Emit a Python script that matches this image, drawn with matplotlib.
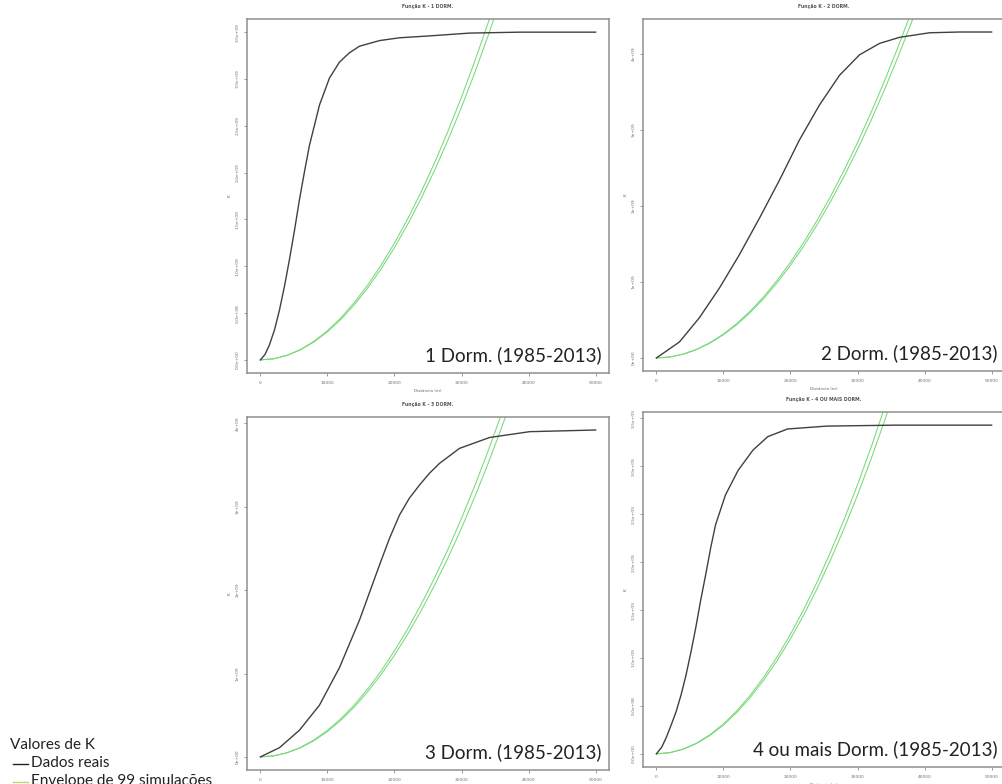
import matplotlib
matplotlib.use('agg')
import matplotlib.pyplot as plt
from matplotlib.lines import Line2D

# distances (m) and observed K values (x1e9) for each panel
d1 = [0, 700, 1343, 2100, 2836, 3600, 4328, 5100, 5821, 6600, 7313, 8806, 10299, 11791, 13284, 14776, 17761, 20746, 25224, 31194, 38657, 50000]
k1 = [0.0, 0.06, 0.16, 0.32, 0.53, 0.79, 1.07, 1.39, 1.71, 2.02, 2.29, 2.72, 3.01, 3.18, 3.28, 3.35, 3.41, 3.44, 3.46, 3.49, 3.50, 3.50]

d2 = [0, 3433, 6418, 9403, 12388, 15373, 18358, 21343, 24328, 27313, 30299, 33284, 36269, 40746, 45224, 50000]
k2 = [0.0, 0.21, 0.53, 0.92, 1.36, 1.84, 2.34, 2.87, 3.33, 3.72, 3.99, 4.14, 4.22, 4.28, 4.29, 4.29]

d3 = [0, 2836, 5821, 8806, 11791, 14776, 17761, 19250, 20746, 22200, 23731, 25200, 26716, 29701, 34179, 40149, 50000]
k3 = [0.0, 0.11, 0.32, 0.62, 1.07, 1.64, 2.30, 2.62, 2.90, 3.10, 3.26, 3.40, 3.52, 3.70, 3.83, 3.90, 3.92]

d4 = [0, 800, 1471, 2200, 2941, 3700, 4412, 5150, 5882, 6600, 7353, 8100, 8824, 10294, 12206, 14412, 16618, 19559, 25441, 35735, 50000]
k4 = [0.0, 0.07, 0.17, 0.30, 0.44, 0.62, 0.82, 1.06, 1.32, 1.60, 1.87, 2.15, 2.39, 2.70, 2.96, 3.17, 3.31, 3.39, 3.42, 3.43, 3.43]

# envelope of 99 simulations (lower / upper), x1e9
d_env = [0, 2000, 4000, 6000, 8000, 10000, 12000, 14000, 16000, 18000, 20000,
         22000, 24000, 26000, 28000, 30000, 32000, 34000, 36000, 38000, 40000]
lo1 = [0, 0.012, 0.048, 0.108, 0.192, 0.300, 0.432, 0.588, 0.768, 0.972, 1.200, 1.452, 1.728, 2.028, 2.352, 2.700, 3.072, 3.468, 3.888, 4.332, 4.800]
hi1 = [0, 0.012, 0.050, 0.112, 0.200, 0.312, 0.449, 0.612, 0.799, 1.011, 1.248, 1.510, 1.797, 2.109, 2.446, 2.808, 3.195, 3.607, 4.044, 4.505, 4.992]
lo2 = [0, 0.012, 0.049, 0.110, 0.195, 0.305, 0.439, 0.598, 0.781, 0.988, 1.220, 1.476, 1.757, 2.062, 2.391, 2.745, 3.123, 3.526, 3.953, 4.404, 4.880]
hi2 = [0, 0.013, 0.050, 0.113, 0.202, 0.315, 0.454, 0.617, 0.806, 1.021, 1.260, 1.525, 1.814, 2.129, 2.470, 2.835, 3.226, 3.641, 4.082, 4.549, 5.040]
lo3 = [0, 0.012, 0.049, 0.110, 0.195, 0.305, 0.439, 0.598, 0.781, 0.988, 1.220, 1.476, 1.757, 2.062, 2.391, 2.745, 3.123, 3.526, 3.953, 4.404, 4.880]
hi3 = [0, 0.013, 0.051, 0.114, 0.204, 0.318, 0.458, 0.623, 0.814, 1.030, 1.272, 1.539, 1.832, 2.150, 2.493, 2.862, 3.256, 3.676, 4.121, 4.592, 5.088]
lo4 = [0, 0.012, 0.048, 0.108, 0.192, 0.300, 0.432, 0.588, 0.768, 0.972, 1.200, 1.452, 1.728, 2.028, 2.352, 2.700, 3.072, 3.468, 3.888, 4.332, 4.800]
hi4 = [0, 0.012, 0.050, 0.112, 0.200, 0.312, 0.449, 0.612, 0.799, 1.011, 1.248, 1.510, 1.797, 2.109, 2.446, 2.808, 3.195, 3.607, 4.044, 4.505, 4.992]

titles = ['Função K - 1 DORM.', 'Função K - 2 DORM.', 'Função K - 3 DORM.', 'Função K - 4 OU MAIS DORM.']
labels = ['1 Dorm. (1985-2013)', '2 Dorm. (1985-2013)', '3 Dorm. (1985-2013)', '4 ou mais Dorm. (1985-2013)']

yt_half = [0, 0.5, 1.0, 1.5, 2.0, 2.5, 3.0, 3.5]
yl_half = ['0.0e+00', '5.0e+08', '1.0e+09', '1.5e+09', '2.0e+09', '2.5e+09', '3.0e+09', '3.5e+09']
yt_one = [0, 1, 2, 3, 4]
yl_one = ['0e+00', '1e+09', '2e+09', '3e+09', '4e+09']
xt = [0, 10000, 20000, 30000, 40000, 50000]

panels = [
    (d1, k1, lo1, hi1, yt_half, yl_half),
    (d2, k2, lo2, hi2, yt_one, yl_one),
    (d3, k3, lo3, hi3, yt_one, yl_one),
    (d4, k4, lo4, hi4, yt_half, yl_half),
]

# axes boxes in figure fraction
positions = [
    [0.2465, 0.5242, 0.3613, 0.4515],
    [0.6417, 0.5268, 0.3613, 0.4490],
    [0.2465, 0.0179, 0.3613, 0.4503],
    [0.6417, 0.0217, 0.3613, 0.4528],
]

fig = plt.figure(figsize=(10.02, 7.84), dpi=100)
fig.patch.set_facecolor('white')

big_font = ['Lato', 'DejaVu Sans']
grey = '#8f8f8f'
tick_grey = '#707070'

for i, (d, k, lo, hi, yt, yl) in enumerate(panels):
    ax = fig.add_axes(positions[i])
    ax.plot(d_env, lo, color='#7ad87a', lw=0.75)
    ax.plot(d_env, hi, color='#7ad87a', lw=0.75)
    ax.plot(d, k, color='#404040', lw=1.0)
    m = max(k)
    ax.set_xlim(-2000, 52000)
    ax.set_ylim(-0.04 * m, 1.04 * m)
    ax.set_xticks(xt)
    ax.set_xticklabels([str(v) for v in xt])
    ax.set_yticks(yt)
    ax.set_yticklabels(yl, rotation=90, va='center')
    ax.tick_params(axis='both', labelsize=3.2, colors=tick_grey, length=2.5, width=0.5, pad=3)
    for s in ax.spines.values():
        s.set_color(grey)
        s.set_linewidth(1.1)
    ax.set_title(titles[i], fontsize=3.3, fontweight='bold', color='#555555', pad=8)
    ax.set_xlabel('Distância (m)', fontsize=3.0, color='#666666', labelpad=3)
    ax.set_ylabel('K', fontsize=3.2, color='#666666', labelpad=3)
    ax.text(0.98, 0.025, labels[i], transform=ax.transAxes, ha='right', va='bottom',
            fontsize=13.5, color='#222222', family=big_font)

# legend bottom-left
fig.text(10 / 1002, 1 - 745 / 784, 'Valores de K', fontsize=11, family=big_font,
         color='#222222', va='center')
fig.text(31 / 1002, 1 - 763 / 784, 'Dados reais', fontsize=11, family=big_font,
         color='#222222', va='center')
fig.text(31 / 1002, 1 - 781 / 784, 'Envelope de 99 simulações', fontsize=11, family=big_font,
         color='#222222', va='center')
fig.add_artist(Line2D([13 / 1002, 28 / 1002], [1 - 764 / 784] * 2, color='#222222', lw=1.0))
fig.add_artist(Line2D([13 / 1002, 28 / 1002], [1 - 782 / 784] * 2, color='#cdcd80', lw=1.0))

fig.savefig('out.png', dpi=100, facecolor='white')
